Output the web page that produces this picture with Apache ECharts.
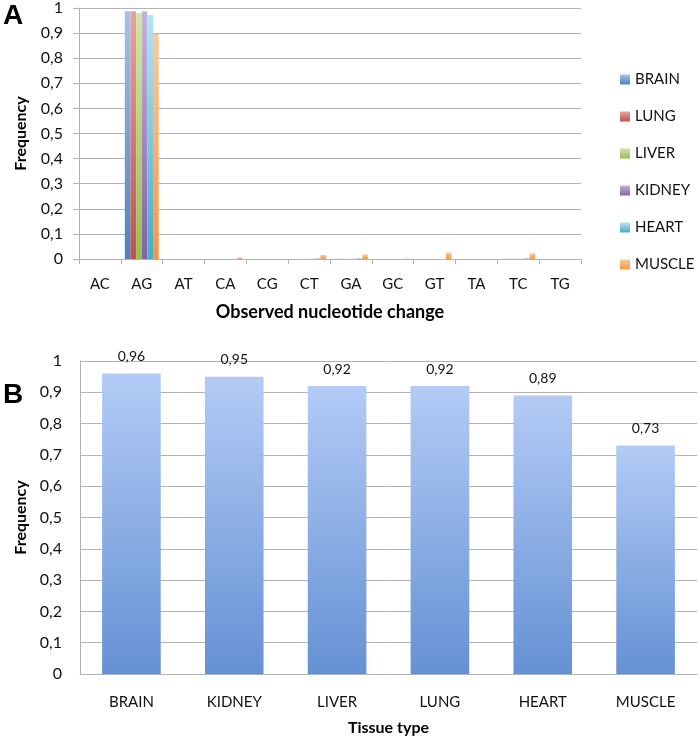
<!DOCTYPE html>
<html>
<head>
<meta charset="utf-8">
<style>
  html, body { margin: 0; padding: 0; background: #fff; }
  #chart { width: 700px; height: 739px; }
</style>
<script src="https://cdn.jsdelivr.net/npm/echarts@6/dist/echarts.min.js"></script>
</head>
<body>
<div id="chart"></div>
<script>
// panel A data
var changes = ["AC", "AG", "AT", "CA", "CG", "CT", "GA", "GC", "GT", "TA", "TC", "TG"];
var tissuesA = ["BRAIN", "LUNG", "LIVER", "KIDNEY", "HEART", "MUSCLE"];
var brainA  = [0, 0.987, 0, 0, 0, 0, 0.001, 0, 0, 0, 0.001, 0];
var lungA   = [0, 0.987, 0, 0, 0, 0, 0.001, 0, 0, 0, 0.001, 0];
var liverA  = [0, 0.980, 0, 0, 0, 0.001, 0.001, 0, 0, 0, 0.002, 0];
var kidneyA = [0, 0.987, 0, 0, 0, 0.001, 0.001, 0, 0, 0, 0.001, 0];
var heartA  = [0, 0.972, 0, 0, 0, 0.003, 0.003, 0, 0, 0, 0.003, 0];
var muscleA = [0, 0.896, 0, 0.006, 0, 0.016, 0.018, 0.002, 0.026, 0, 0.022, 0];
var seriesA = [brainA, lungA, liverA, kidneyA, heartA, muscleA];

// panel B data
var tissuesB = ["BRAIN", "KIDNEY", "LIVER", "LUNG", "HEART", "MUSCLE"];
var freqB = [0.96, 0.95, 0.92, 0.92, 0.89, 0.73];

// colours (top of gradient, bottom of gradient)
var colA = [
  ["#a9c1e9", "#4f81bd"],
  ["#e6a3a1", "#c0504d"],
  ["#d3e6a6", "#9bbb59"],
  ["#c4b3db", "#8064a2"],
  ["#b5e3f2", "#4bacc6"],
  ["#fbc99a", "#f79646"]
];

var font = "Lato, 'Open Sans', sans-serif";

function grad(top, bottom) {
  return new echarts.graphic.LinearGradient(0, 0, 0, 1, [
    { offset: 0, color: top }, { offset: 1, color: bottom }
  ]);
}
function fmt(v) {
  var s = String(Number(v.toFixed(2)));
  return s.replace(".", ",");
}

var chart = echarts.init(document.getElementById("chart"));

var axisLine = { lineStyle: { color: "#b3b3b3", width: 1 } };
var splitLine = { show: true, lineStyle: { color: "#b3b3b3", width: 1 } };
var xLabel = { color: "#111", fontSize: 15, fontFamily: font };
var yLabel = { color: "#111", fontSize: 16, fontFamily: font };
var nameStyle = { color: "#000", fontSize: 16, fontWeight: "bold", fontFamily: font };

var series = [];
for (var i = 0; i < tissuesA.length; i++) {
  series.push({
    name: tissuesA[i],
    type: "bar",
    xAxisIndex: 0,
    yAxisIndex: 0,
    data: seriesA[i],
    barGap: "0%",
    barCategoryGap: "19%",
    itemStyle: { color: grad(colA[i][0], colA[i][1]) }
  });
}
series.push({
  name: "freqB",
  type: "bar",
  xAxisIndex: 1,
  yAxisIndex: 1,
  data: freqB,
  barCategoryGap: "43%",
  itemStyle: { color: grad("#b3cbf6", "#6591d3") },
  label: {
    show: true,
    position: "top",
    distance: 10,
    color: "#111",
    fontSize: 14,
    fontFamily: font,
    formatter: function (p) { return p.value.toFixed(2).replace(".", ","); }
  }
});

var option = {
  animation: false,
  backgroundColor: "#fff",
  grid: [
    { left: 79, top: 7, width: 502, height: 252 },
    { left: 80, top: 361, width: 617, height: 313 }
  ],
  legend: {
    data: tissuesA,
    orient: "vertical",
    left: 615,
    top: 67,
    itemWidth: 10,
    itemHeight: 10,
    itemGap: 22,
    icon: "rect",
    textStyle: { color: "#111", fontSize: 15, fontFamily: font }
  },
  xAxis: [
    {
      gridIndex: 0,
      type: "category",
      data: changes,
      axisLine: axisLine,
      axisTick: { show: true, length: 5, lineStyle: { color: "#b3b3b3" } },
      axisLabel: Object.assign({ margin: 18 }, xLabel),
      name: "Observed nucleotide change",
      nameLocation: "middle",
      nameGap: 44,
      nameTextStyle: Object.assign({}, nameStyle, { fontSize: 18 })
    },
    {
      gridIndex: 1,
      type: "category",
      data: tissuesB,
      axisLine: axisLine,
      axisTick: { show: false },
      axisLabel: Object.assign({ margin: 21 }, xLabel),
      name: "Tissue type",
      nameLocation: "middle",
      nameGap: 46,
      nameTextStyle: nameStyle
    }
  ],
  yAxis: [
    {
      gridIndex: 0,
      type: "value",
      min: 0,
      max: 1,
      interval: 0.1,
      axisLine: { show: true, lineStyle: { color: "#b3b3b3" } },
      axisTick: { show: true, length: 6, lineStyle: { color: "#b3b3b3" } },
      splitLine: splitLine,
      axisLabel: Object.assign({ margin: 16, formatter: fmt }, yLabel),
      name: "Frequency",
      nameLocation: "middle",
      nameGap: 50,
      nameTextStyle: nameStyle
    },
    {
      gridIndex: 1,
      type: "value",
      min: 0,
      max: 1,
      interval: 0.1,
      axisLine: { show: true, lineStyle: { color: "#b3b3b3" } },
      axisTick: { show: false },
      splitLine: splitLine,
      axisLabel: Object.assign({ margin: 18, formatter: fmt }, yLabel),
      name: "Frequency",
      nameLocation: "middle",
      nameGap: 51,
      nameTextStyle: nameStyle
    }
  ],
  graphic: [
    { type: "text", left: 3, top: 2, style: { text: "A", fontSize: 28, fontWeight: "bold", fontFamily: "Liberation Sans, Arial, sans-serif", fill: "#000" } },
    { type: "text", left: 3, top: 381, style: { text: "B", fontSize: 28, fontWeight: "bold", fontFamily: "Liberation Sans, Arial, sans-serif", fill: "#000" } }
  ],
  series: series
};

chart.setOption(option);
window.onresize = chart.resize;
</script>
</body>
</html>
